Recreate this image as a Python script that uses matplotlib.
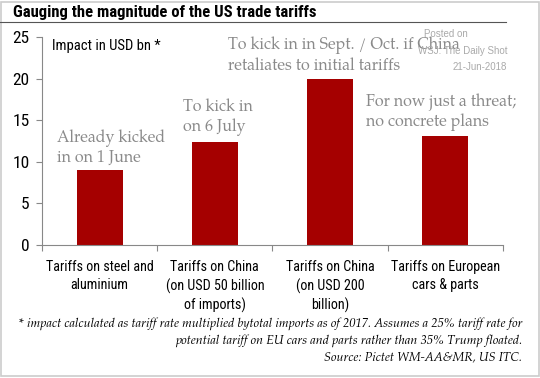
import matplotlib.pyplot as plt
from matplotlib.lines import Line2D

# Data
categories = ["Tariffs on steel and\naluminium",
              "Tariffs on China\n(on USD 50 billion\nof imports)",
              "Tariffs on China\n(on USD 200\nbillion)",
              "Tariffs on European\ncars & parts"]
impact = [9.0, 12.4, 20.0, 13.1]
notes = ["Already kicked\nin on 1 June",
         "To kick in\non 6 July",
         "To kick in in Sept. / Oct. if China\nretaliates to initial tariffs",
         "For now just a threat;\nno concrete plans"]
note_pos = [(-0.37, 11.7), (0.72, 15.4), (1.11, 22.8), (2.31, 16.0)]

cond = ["Roboto Condensed", "DejaVu Sans"]
serif = ["TeX Gyre Pagella", "DejaVu Serif"]

fig = plt.figure(figsize=(5.4, 3.78), dpi=100)
ax = fig.add_axes([0.078, 0.352, 0.853, 0.549])

x = range(len(categories))
ax.bar(x, impact, width=0.4, color="#a50000")
ax.set_xlim(-0.5, 3.5)
ax.set_ylim(0, 25)
ax.set_yticks([0, 5, 10, 15, 20, 25])
ax.set_yticklabels([0, 5, 10, 15, 20, 25], family=cond, fontsize=12.5)
ax.set_xticks([-0.5, 0.5, 1.5, 2.5, 3.5])
ax.set_xticklabels([])
ax.set_xticks(list(x), minor=True)
ax.set_xticklabels(categories, minor=True, family=cond, fontsize=10.2, linespacing=1.35)
ax.tick_params(axis="x", which="minor", length=0, pad=11)
ax.tick_params(axis="x", which="major", length=4, color="#888888")
ax.tick_params(axis="y", length=4, color="#888888", pad=5)
for s in ["top", "right"]:
    ax.spines[s].set_visible(False)
for s in ["left", "bottom"]:
    ax.spines[s].set_color("#888888")

ax.text(0.022, 0.99, "Impact in USD bn *", transform=ax.transAxes, family=cond,
        fontsize=10.5, va="top", ha="left")

for (nx, ny), t in zip(note_pos, notes):
    ax.text(nx, ny, t, family=serif, fontsize=11.5, color="#8a8a8a", va="center",
            ha="left", linespacing=1.2)

# title and frame
fig.text(0.024, 0.968, "Gauging the magnitude of the US trade tariffs", family=cond,
         fontsize=12, fontweight="bold", va="center")
fig.add_artist(Line2D([0.0, 0.937], [0.942, 0.942], color="#555555", lw=0.8))
fig.add_artist(plt.Rectangle((0.002, 0.004), 0.996, 0.992, fill=False,
                             edgecolor="#cccccc", lw=1.2))

wm = dict(fontsize=7, color="#aaaaaa", family=["Liberation Sans", "DejaVu Sans"], va="center")
fig.text(0.785, 0.91, "Posted on", ha="left", **wm)
fig.text(0.939, 0.866, "WSJ. The Daily Shot", ha="right", **wm)
fig.text(0.939, 0.823, "21-Jun-2018", ha="right", **wm)

foot = ("* impact calculated as tariff rate multiplied bytotal imports as of 2017. Assumes a 25% tariff rate for\n"
        "potential tariff on EU cars and parts rather than 35% Trump floated.\n"
        "Source: Pictet WM-AA&MR, US ITC.")
fig.text(0.967, 0.1, foot, family=serif, style="italic", fontsize=9,
         ha="right", va="center", linespacing=1.42)

fig.savefig("out.png", dpi=100)
